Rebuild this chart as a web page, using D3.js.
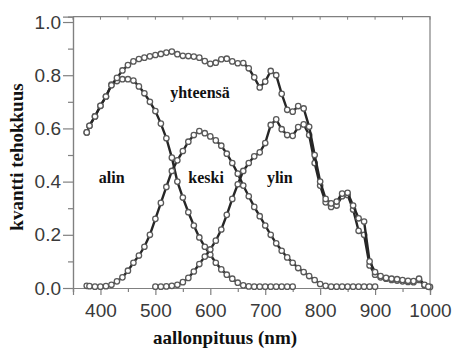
<!DOCTYPE html>
<html lang="fi">
<head>
<meta charset="utf-8">
<title>kvantti tehokkuus</title>
<script src="https://d3js.org/d3.v7.min.js"></script>
<style>
  body { margin: 0; background: #fff; }
  svg { display: block; }
</style>
</head>
<body>
<script>
var w = 455;
var h = 351;

// aallonpituus (nm) and kvantti tehokkuus per series
var yhtNm = [375,380,390,400,410,420,430,440,450,460,470,480,490,500,510,520,530,540,550,560,570,580,590,600,610,620,630,640,650,660,670,680,690,700,710,720,730,740,750,760,770,780,790,800,810,820,830,840,850,860,870,880,890,900,910,920,930,940,950,960,970,980,990,997];
var yhtQE = [.585,.61,.645,.685,.72,.762,.79,.818,.838,.852,.861,.866,.871,.876,.88,.885,.889,.879,.873,.872,.87,.866,.853,.843,.847,.86,.862,.852,.845,.846,.826,.792,.754,.776,.816,.8,.73,.67,.663,.684,.675,.606,.50,.40,.335,.318,.325,.355,.358,.31,.262,.25,.10,.06,.045,.038,.035,.033,.03,.027,.026,.035,.012,.005];

var alinNm = [375,380,390,400,410,420,430,440,450,460,470,480,490,500,510,520,530,540,550,560,570,580,590,600,610,620,630,640,650,660,670,680,690,700,710,720,730,740,750];
var alinQE = [.585,.61,.645,.685,.72,.765,.778,.785,.785,.78,.758,.732,.70,.665,.618,.563,.49,.40,.34,.285,.235,.19,.155,.125,.095,.07,.05,.035,.02,.01,.006,.005,.005,.005,.005,.005,.005,.005,.005];

var keskiNm = [375,380,390,400,410,420,430,440,450,460,470,480,490,500,510,520,530,540,550,560,570,580,590,600,610,620,630,640,650,660,670,680,690,700,710,720,730,740,750,760,770,780,790,800,810,820,830,840,850,860,870,880,890,900];
var keskiQE = [.008,.007,.005,.005,.007,.012,.025,.04,.065,.095,.122,.155,.2,.26,.32,.38,.44,.48,.515,.55,.575,.59,.582,.57,.555,.535,.505,.47,.43,.385,.345,.305,.27,.235,.2,.168,.14,.115,.095,.075,.06,.045,.03,.015,.008,.005,.005,.005,.005,.005,.005,.005,.005,.005];

var ylinNm = [500,510,520,530,540,550,560,570,580,590,600,610,620,630,640,650,660,670,680,690,700,710,720,730,740,750,760,770,780,790,800,810,820,830,840,850,860,870,880,890,900,910,920,930,940,950,960,970,980,990,1000];
var ylinQE = [.005,.005,.006,.008,.012,.022,.038,.062,.09,.118,.145,.178,.22,.275,.335,.39,.44,.47,.495,.51,.545,.613,.634,.597,.575,.572,.605,.615,.575,.47,.385,.322,.305,.31,.345,.35,.295,.215,.2,.085,.05,.04,.035,.03,.028,.025,.023,.022,.03,.01,.004];

var xMajor = [400,500,600,700,800,900,1000];
var xMinor = [350,450,550,650,750,850,950];
var yMajor = [0,0.2,0.4,0.6,0.8,1.0];
var yMinor = [0.1,0.3,0.5,0.7,0.9];

var curveLabels = [
  {text: "yhteensä", nm: 527, qe: 0.715},
  {text: "alin", nm: 397, qe: 0.395},
  {text: "keski", nm: 560, qe: 0.395},
  {text: "ylin", nm: 703, qe: 0.395}
];

var series = [
  {nm: alinNm, qe: alinQE},
  {nm: keskiNm, qe: keskiQE},
  {nm: ylinNm, qe: ylinQE},
  {nm: yhtNm, qe: yhtQE}
];

var x = d3.scaleLinear().domain([350, 1000]).range([73, 430]);
var y = d3.scaleLinear().domain([0, 1.02]).range([288, 16.7]);

var svg = d3.select("body").append("svg")
    .attr("width", w)
    .attr("height", h);

var axisColor = "#808080";

// frame (top and right)
svg.append("path")
    .attr("d", "M" + x(350) + "," + y(1.02) + "H" + x(1000) + "V" + y(0))
    .attr("fill", "none")
    .attr("stroke", axisColor)
    .attr("stroke-width", 1.2);

// top frame ticks
svg.selectAll(".toptick")
    .data(xMajor.concat(xMinor))
    .enter().append("line")
    .attr("x1", function(d) { return x(d); })
    .attr("x2", function(d) { return x(d); })
    .attr("y1", y(1.02))
    .attr("y2", y(1.02) + 3)
    .attr("stroke", axisColor);

function styleAxis(g) {
  g.select(".domain").attr("stroke", axisColor).attr("stroke-width", 1.2);
  g.selectAll(".tick line").attr("stroke", axisColor).attr("stroke-width", 1.2);
  g.selectAll(".tick text")
    .attr("fill", "#3a3a3a")
    .style("font-family", "'Liberation Sans', Arial, sans-serif")
    .style("font-size", "19px");
}

svg.append("g")
    .attr("transform", "translate(0," + y(0) + ")")
    .call(d3.axisBottom(x).tickValues(xMinor).tickSize(4).tickFormat(""))
    .call(styleAxis);
svg.append("g")
    .attr("transform", "translate(0," + y(0) + ")")
    .call(d3.axisBottom(x).tickValues(xMajor).tickSize(7).tickPadding(9).tickFormat(d3.format("d")))
    .call(styleAxis);

svg.append("g")
    .attr("transform", "translate(" + x(350) + ",0)")
    .call(d3.axisLeft(y).tickValues(yMinor).tickSize(5).tickFormat(""))
    .call(styleAxis);
svg.append("g")
    .attr("transform", "translate(" + x(350) + ",0)")
    .call(d3.axisLeft(y).tickValues(yMajor).tickSize(10).tickPadding(2).tickFormat(d3.format(".1f")))
    .call(styleAxis);

// curves
var line = d3.line()
    .x(function(d) { return x(d[0]); })
    .y(function(d) { return y(d[1]); });

series.forEach(function(s) {
  var pts = s.nm.map(function(v, i) { return [v, s.qe[i]]; });
  svg.append("path")
      .datum(pts)
      .attr("d", line)
      .attr("fill", "none")
      .attr("stroke", "#262626")
      .attr("stroke-width", 2.4);
  svg.append("g").selectAll("circle")
      .data(pts)
      .enter().append("circle")
      .attr("cx", function(d) { return x(d[0]); })
      .attr("cy", function(d) { return y(d[1]); })
      .attr("r", 2.7)
      .attr("fill", "#fff")
      .attr("stroke", "#595959")
      .attr("stroke-width", 1.3);
});

// labels
var serif = "'Liberation Serif', 'Times New Roman', serif";

svg.selectAll(".clabel")
    .data(curveLabels)
    .enter().append("text")
    .attr("x", function(d) { return x(d.nm); })
    .attr("y", function(d) { return y(d.qe); })
    .attr("font-family", serif)
    .attr("font-weight", "bold")
    .attr("font-size", 16)
    .attr("fill", "#111")
    .text(function(d) { return d.text; });

svg.append("text")
    .attr("x", 225)
    .attr("y", 344)
    .attr("text-anchor", "middle")
    .attr("font-family", serif)
    .attr("font-weight", "bold")
    .attr("font-size", 19)
    .attr("fill", "#111")
    .text("aallonpituus (nm)");

svg.append("text")
    .attr("transform", "translate(23,157) rotate(-90)")
    .attr("text-anchor", "middle")
    .attr("font-family", serif)
    .attr("font-weight", "bold")
    .attr("font-size", 19)
    .attr("fill", "#111")
    .text("kvantti tehokkuus");
</script>
</body>
</html>
